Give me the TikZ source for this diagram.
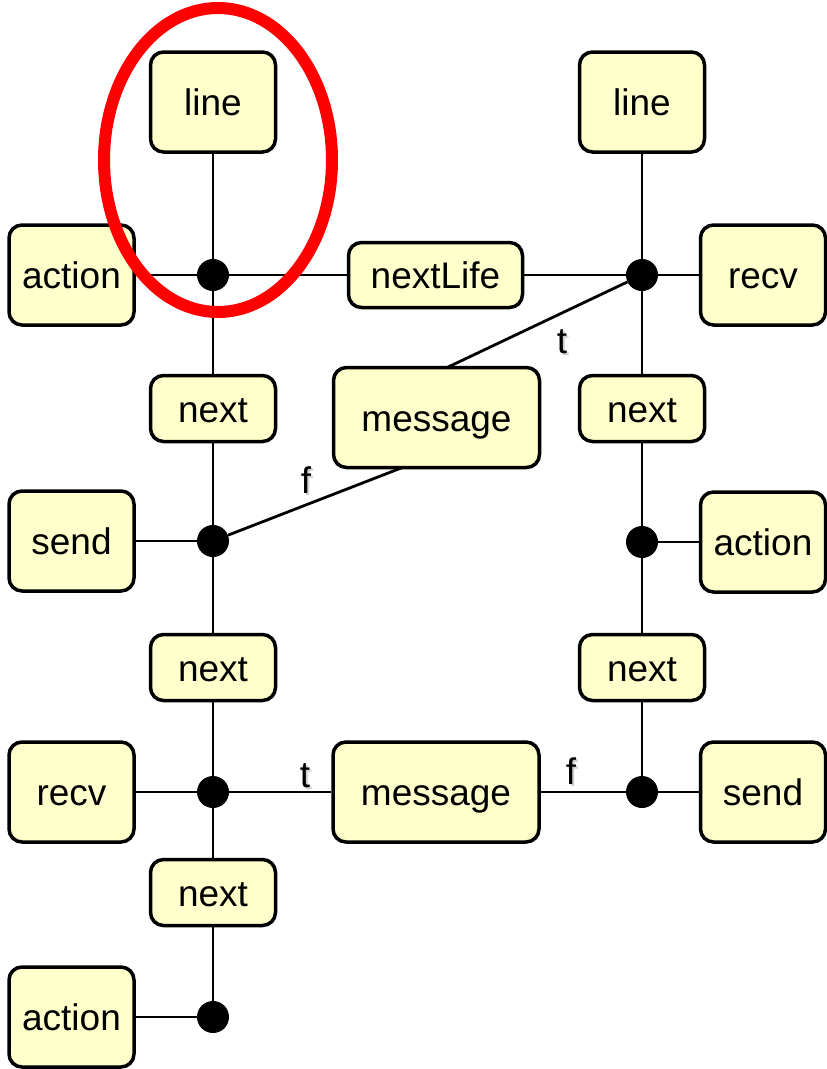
\documentclass[tikz,border=0pt]{standalone}
\usepackage{fontspec}
\setmainfont{Liberation Sans}
\usetikzlibrary{backgrounds}
\definecolor{boxfill}{HTML}{FFFFCC}
\definecolor{ringred}{HTML}{FF0000}
% branch letter with a faint drop shade
\newcommand\softshade[1]{\makebox[0pt][l]{\smash{\kern2pt\raisebox{-2pt}{\textcolor{black!18}{#1}}}}#1}
\begin{document}
\begin{tikzpicture}[x=1pt,y=-1pt,
  box/.style={draw=black, line width=3.5pt, fill=boxfill, rounded corners=13pt,
              inner sep=0pt, text height=27pt, text depth=0pt,
              font=\fontsize{37}{44}\selectfont},
  big/.style={box, minimum width=125pt, minimum height=100pt},
  slim/.style={box, minimum width=125pt, minimum height=66pt},
  longbox/.style={box, minimum width=174pt, minimum height=65pt},
  wide/.style={box, minimum width=206pt, minimum height=100pt},
  joint/.style={circle, fill=black, inner sep=0pt, minimum size=32pt},
  wire/.style={line width=2.8pt},
  tag/.style={inner sep=0pt, font=\fontsize{37}{44}\selectfont}]

\useasboundingbox (0,0) rectangle (827,1069);

% left chain
\node[big]  (lineL)   at (213,102)   {line};
\node[joint] (jL1)    at (213,275)   {};
\node[big]  (actL1)   at (71.5,275)  {action};
\node[slim] (nextL1)  at (213,408.5) {next};
\node[joint] (jL2)    at (213,541)   {};
\node[big]  (sendL)   at (71.5,541)  {send};
\node[slim] (nextL2)  at (213,667.5) {next};
\node[joint] (jL3)    at (213,792)   {};
\node[big]  (recvL)   at (71.5,792)  {recv};
\node[slim] (nextL3)  at (213,892.5) {next};
\node[joint] (jL4)    at (213,1017)  {};
\node[big]  (actL2)   at (71.5,1017) {action};

% right chain
\node[big]  (lineR)   at (642,102)   {line};
\node[joint] (jR1)    at (642,275)   {};
\node[big]  (recvR)   at (763,275)   {recv};
\node[slim] (nextR1)  at (642,408.5) {next};
\node[joint] (jR2)    at (642,542)   {};
\node[big]  (actR)    at (763,542)   {action};
\node[slim] (nextR2)  at (642,667.5) {next};
\node[joint] (jR3)    at (642,792)   {};
\node[big]  (sendR)   at (763,792)   {send};

% links between the chains
\node[longbox] (life) at (435.5,275)   {nextLife};
\node[wide]    (msgA) at (436.5,417.5) {message};
\node[wide]    (msgB) at (436,792)     {message};

\begin{scope}[on background layer]
  \draw[wire] (lineL) -- (jL1) -- (nextL1) -- (jL2) -- (nextL2) -- (jL3) -- (nextL3) -- (jL4);
  \draw[wire] (actL1) -- (jL1);
  \draw[wire] (sendL) -- (jL2);
  \draw[wire] (recvL) -- (jL3);
  \draw[wire] (actL2) -- (jL4);
  \draw[wire] (lineR) -- (jR1) -- (nextR1) -- (jR2) -- (nextR2) -- (jR3);
  \draw[wire] (jR1) -- (recvR);
  \draw[wire] (jR2) -- (actR);
  \draw[wire] (jR3) -- (sendR);
  \draw[wire] (jL1) -- (life) -- (jR1);
  \draw[wire] (jR1) -- ([xshift=10pt]msgA.west);
  \draw[wire] (jL2) -- ([xshift=-10pt]msgA.east);
  \draw[wire] (jL3) -- (msgB) -- (jR3);
\end{scope}

% branch labels
\node[tag] (tA) at (562,342) {\softshade{t}};
\node[tag] (fA) at (306,480) {\softshade{f}};
\node[tag] (tB) at (305,776) {\softshade{t}};
\node[tag] (fB) at (571,771) {\softshade{f}};

% highlight ring
\draw[ringred, line width=12pt] (218,160) ellipse [x radius=114pt, y radius=152pt];
\end{tikzpicture}
\end{document}
